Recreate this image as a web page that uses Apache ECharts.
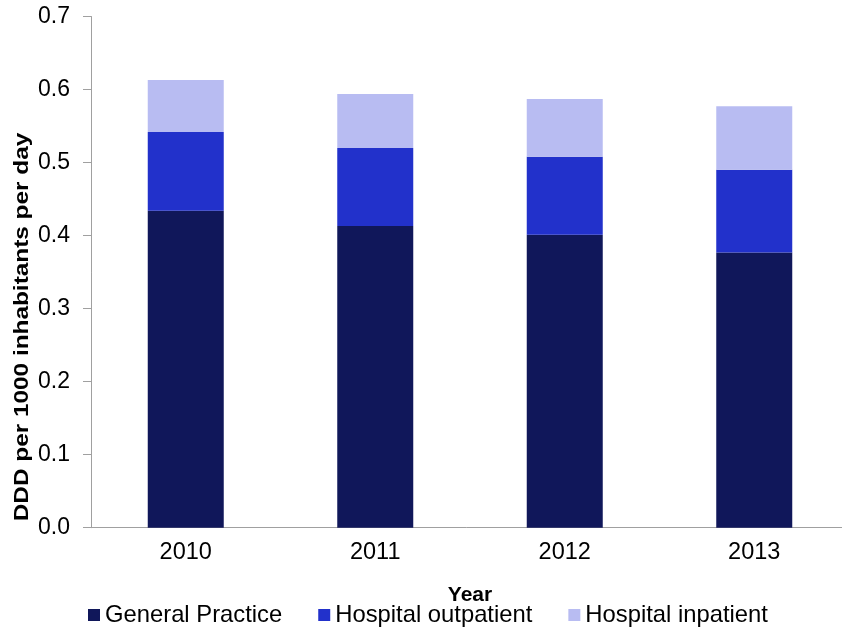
<!DOCTYPE html>
<html>
<head>
<meta charset="utf-8">
<script src="https://cdn.jsdelivr.net/npm/echarts@6/dist/echarts.min.js"></script>
<style>
    html, body {margin: 0; padding: 0; background: #fff;}
    #chart {width: 842px; height: 628px;}
</style>
</head>
<body>
<div id="chart"></div>
<script>
const years = ['2010', '2011', '2012', '2013'];
const generalPractice = [0.434, 0.413, 0.401, 0.377];
const hospitalOutpatient = [0.108, 0.107, 0.107, 0.113];
const hospitalInpatient = [0.071, 0.074, 0.079, 0.087];
const yTicks = [0, 0.1, 0.2, 0.3, 0.4, 0.5, 0.6, 0.7];

const font = 'Liberation Sans, Arial, sans-serif';
const axisColor = '#a0a0a0';

const chart = echarts.init(document.getElementById('chart'));

const option = {
    animation: false,
    textStyle: {fontFamily: font},
    grid: {left: 91, top: 16.5, bottom: 100.3, width: 758, outerBoundsMode: 'none', containLabel: false},
    legend: {
        left: 83,
        top: 598,
        itemWidth: 12,
        itemHeight: 12,
        itemGap: 36,
        icon: 'rect',
        textStyle: {fontSize: 23.8, color: '#000', fontFamily: font},
        data: ['General Practice', 'Hospital outpatient', 'Hospital inpatient']
    },
    xAxis: {
        type: 'category',
        data: years,
        name: 'Year',
        nameLocation: 'middle',
        nameGap: 57,
        nameTextStyle: {fontSize: 21, fontWeight: 'bold', color: '#000', fontFamily: font},
        axisLine: {lineStyle: {color: axisColor, width: 1}},
        axisTick: {length: 7, lineStyle: {color: axisColor}},
        axisLabel: {fontSize: 23.5, color: '#000', margin: 13, fontFamily: font}
    },
    yAxis: {
        type: 'value',
        min: yTicks[0],
        max: yTicks[yTicks.length - 1],
        interval: 0.1,
        splitLine: {show: false},
        axisLine: {show: true, lineStyle: {color: axisColor, width: 1}},
        axisTick: {show: true, length: 8, lineStyle: {color: axisColor}},
        axisLabel: {
            fontSize: 23,
            color: '#000',
            margin: 21,
            fontFamily: font,
            formatter: v => v.toFixed(1)
        }
    },
    graphic: [{
        type: 'text',
        x: 22,
        y: 327,
        rotation: Math.PI / 2,
        scaleX: 1.16,
        style: {
            text: 'DDD per 1000 inhabitants per day',
            font: 'bold 21px ' + font,
            fill: '#000',
            align: 'center',
            verticalAlign: 'middle'
        }
    }],
    series: [
        {
            name: 'General Practice',
            type: 'bar',
            stack: 'ddd',
            barWidth: 76,
            itemStyle: {color: '#10175a'},
            data: generalPractice
        },
        {
            name: 'Hospital outpatient',
            type: 'bar',
            stack: 'ddd',
            barWidth: 76,
            itemStyle: {color: '#2231cb'},
            data: hospitalOutpatient
        },
        {
            name: 'Hospital inpatient',
            type: 'bar',
            stack: 'ddd',
            barWidth: 76,
            itemStyle: {color: '#b8bcf2'},
            data: hospitalInpatient
        }
    ]
};

chart.setOption(option);
</script>
</body>
</html>
